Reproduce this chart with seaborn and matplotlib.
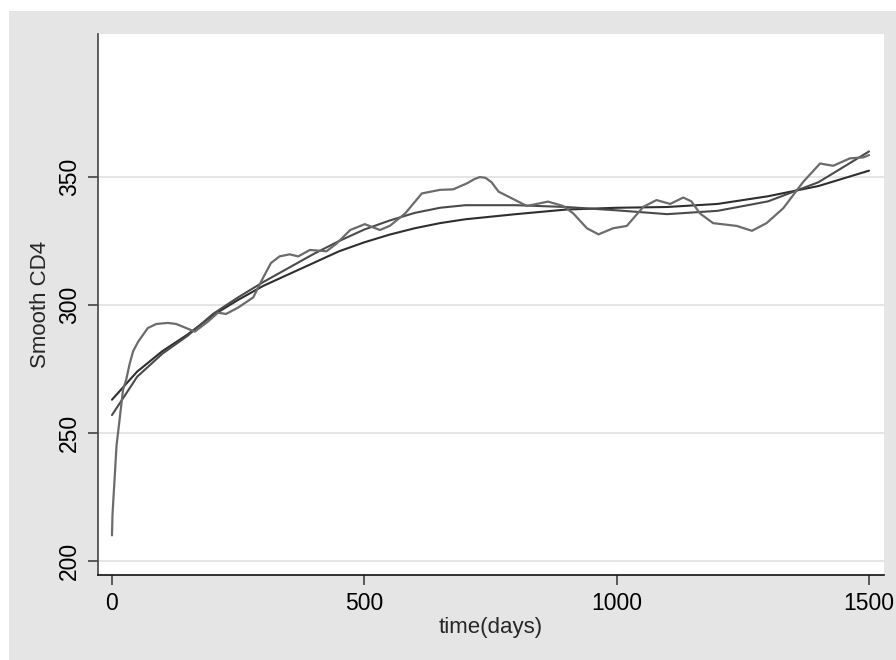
import matplotlib
matplotlib.use("Agg")
import matplotlib.pyplot as plt
from matplotlib.patches import Rectangle
import seaborn as sns

# wiggly running-mean smooth of CD4
smooth_days = [0, 1, 9, 22, 28, 35, 42, 52, 71, 88, 111, 127, 147, 164, 190,
               210, 226, 250, 280, 299, 315, 332, 352, 369, 392, 425, 445, 472,
               501, 531, 551, 581, 614, 650, 676, 703, 718, 729, 740, 752, 766,
               789, 822, 864, 894, 914, 941, 964, 993, 1020, 1053, 1079, 1106,
               1132, 1148, 1165, 1191, 1238, 1268, 1297, 1330, 1370, 1403, 1429,
               1462, 1489, 1500]
smooth_cd4 = [210, 218, 245, 267, 270.7, 277, 282, 285.7, 291, 292.6, 293,
              292.6, 291, 289.6, 293.5, 297, 296.5, 299, 303, 310.5, 316.4, 319,
              319.8, 319, 321.5, 321, 324, 329.3, 331.6, 329.3, 331, 335.8, 343.6,
              345, 345.2, 347.5, 349.2, 350, 349.7, 348, 344.3, 342, 338.7, 340.4,
              338.7, 335.8, 330, 327.6, 330, 330.9, 338.4, 341, 339.5, 342, 340.5,
              335.8, 332, 330.9, 329, 332, 337.8, 348.2, 355.3, 354.4, 357.3,
              357.7, 358.6]

# two fitted curves
fit_days = [0, 50, 100, 150, 200, 250, 300, 350, 400, 450, 500, 550, 600, 650,
            700, 800, 900, 1000, 1100, 1200, 1300, 1400, 1500]
fit_a = [263, 274, 282, 288.5, 296, 302, 307.5, 312, 316.5, 321, 324.5, 327.5,
         330, 332, 333.5, 335.5, 337.3, 338, 338.3, 339.5, 342.5, 346.5, 352.5]
fit_b = [257, 272, 281, 288, 296.5, 303, 309, 314.5, 320, 325, 329.5, 333, 336,
         338, 339, 339, 338.3, 337, 335.5, 336.8, 340.5, 348, 360]

y_ticks = [200, 250, 300, 350]
x_ticks = [0, 500, 1000, 1500]

sns.set_style("white")
plt.rcParams["font.family"] = ["Liberation Sans", "DejaVu Sans"]

fig = plt.figure(figsize=(8.96, 6.6), dpi=100)
fig.patch.set_facecolor("white")
fig.patches.append(Rectangle((9 / 896, 0), 1, 649 / 660, transform=fig.transFigure,
                             facecolor="#e5e5e5", edgecolor="none", zorder=-10))
ax = fig.add_axes([98 / 896, 1 - 575 / 660, 786 / 896, 541 / 660])
ax.set_facecolor("white")

for yt in y_ticks:
    ax.axhline(yt, color="#e3e3e3", lw=1.3, zorder=0)

sns.lineplot(x=fit_days, y=fit_a, ax=ax, color="#2e2e2e", lw=1.5,
             estimator=None, sort=False)
sns.lineplot(x=fit_days, y=fit_b, ax=ax, color="#4a4a4a", lw=1.5,
             estimator=None, sort=False)
sns.lineplot(x=smooth_days, y=smooth_cd4, ax=ax, color="#6b6b6b", lw=1.6,
             estimator=None, sort=False)

ax.set_xlim(-27.7, 1529.7)
ax.set_ylim(194.5, 405.9)
ax.set_xticks(x_ticks)
ax.set_yticks(y_ticks)
ax.set_yticklabels([str(v) for v in y_ticks], rotation=90, va="center")

for side in ["top", "right"]:
    ax.spines[side].set_visible(False)
ax.spines["left"].set_color("#444444")
ax.spines["bottom"].set_color("#111111")
ax.spines["left"].set_linewidth(1.2)
ax.spines["bottom"].set_linewidth(1.2)

ax.tick_params(axis="both", which="major", length=7, width=1.1, color="#333333",
               labelsize=16.5, labelcolor="black", left=True, bottom=True)
ax.tick_params(axis="y", pad=5)
ax.tick_params(axis="x", pad=5)

ax.set_xlabel("time(days)", fontsize=16, labelpad=2)
ax.set_ylabel("Smooth CD4", fontsize=16, labelpad=5)

fig.savefig("out.png", dpi=100)
